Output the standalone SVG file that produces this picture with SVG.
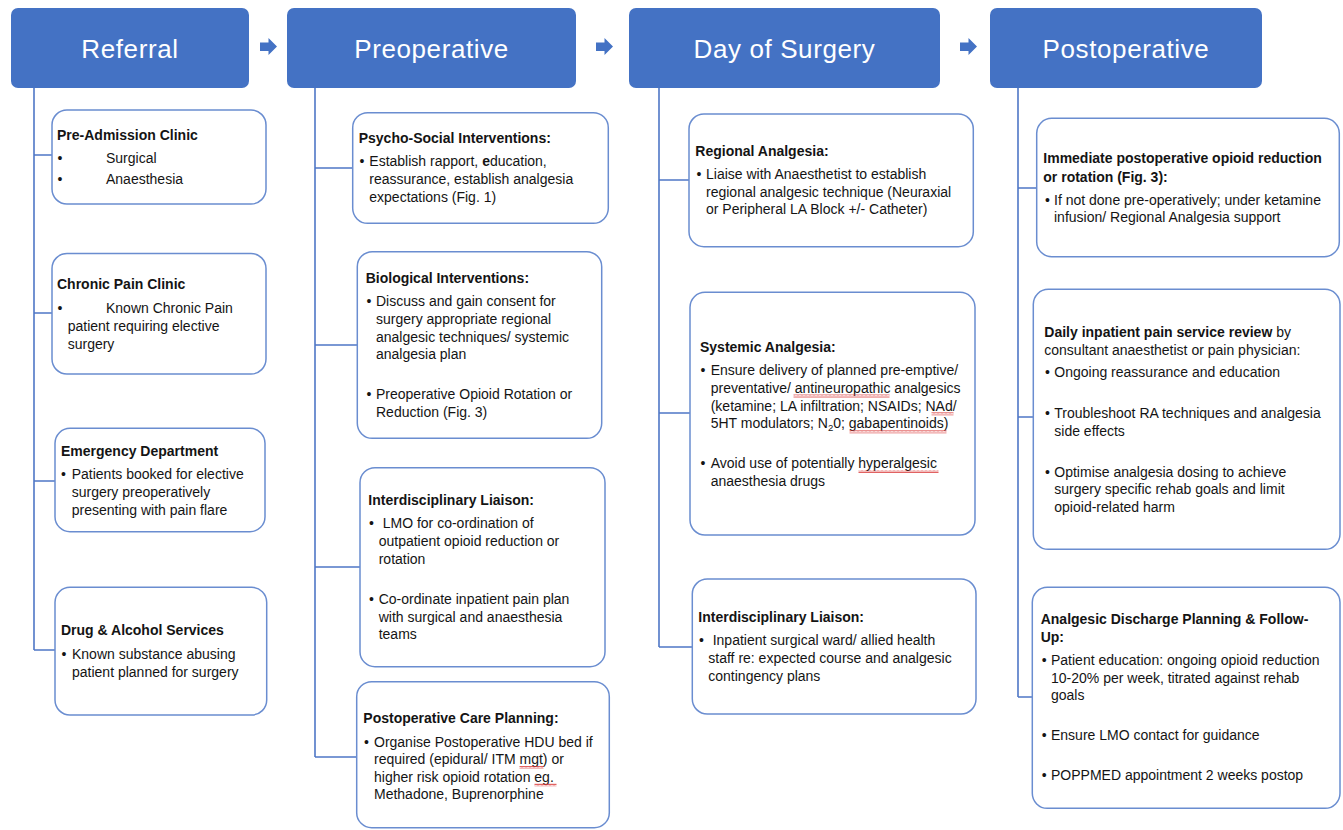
<svg xmlns="http://www.w3.org/2000/svg" width="1343" height="830" viewBox="0 0 1343 830">
<style>
.hdr{fill:#4472c4;}
.ht{font-family:"Liberation Sans",Arial,sans-serif;font-size:26px;fill:#ffffff;text-anchor:middle;letter-spacing:0.6px;}
.box{fill:#ffffff;stroke:#6a8dd0;stroke-width:1.5;}
.t{font-family:"Liberation Sans",Arial,sans-serif;font-size:14px;fill:#141414;}
.b{font-weight:bold;}
.conn{fill:none;stroke:#4f77c6;stroke-width:1.6;}
.arr{fill:#4472c4;}
.sq{fill:url(#squig);}
</style>
<defs>
<path id="barrow" d="M0 42.5 H8.5 V38 L17 46.5 L8.5 55 V51 H0 Z"/>
<pattern id="squig" x="0" y="0" width="4" height="3" patternUnits="userSpaceOnUse">
<path d="M0 2.5 L1 0.5 L2 2.5 L3 0.5 L4 2.5" fill="none" stroke="#d93a3a" stroke-width="0.8"/>
</pattern>
</defs>
<rect width="1343" height="830" fill="#ffffff"/>

<!-- connectors -->
<g id="connectors">
<path class="conn" d="M34 88 V650 M34 155 H52 M34 313 H52 M34 481 H55 M34 650 H55"/>
<path class="conn" d="M315 88 V757 M315 168 H353 M315 345 H357 M315 567 H360 M315 757 H357"/>
<path class="conn" d="M659 88 V647 M659 180 H689 M659 413 H690 M659 647 H692"/>
<path class="conn" d="M1018 88 V697 M1018 188 H1037 M1018 417 H1033 M1018 697 H1032"/>
<use href="#barrow" class="arr" x="260"/>
<use href="#barrow" class="arr" x="596"/>
<use href="#barrow" class="arr" x="960"/>
</g>

<!-- headers -->
<g id="h-referral"><rect class="hdr" x="11" y="8" width="238" height="80" rx="7"/><text class="ht" x="130" y="58">Referral</text></g>
<g id="h-preop"><rect class="hdr" x="287" y="8" width="289" height="80" rx="7"/><text class="ht" x="431.5" y="58">Preoperative</text></g>
<g id="h-day"><rect class="hdr" x="629" y="8" width="311" height="80" rx="7"/><text class="ht" x="784.5" y="58">Day of Surgery</text></g>
<g id="h-postop"><rect class="hdr" x="990" y="8" width="272" height="80" rx="7"/><text class="ht" x="1126" y="58">Postoperative</text></g>

<!-- Referral column -->
<g id="n-preadmission">
<rect class="box" x="52" y="110" width="214" height="94" rx="15"/>
<text class="t b" x="57" y="140">Pre-Admission Clinic</text>
<text class="t" x="57.5" y="163">•</text><text class="t" x="106" y="163">Surgical</text>
<text class="t" x="57.5" y="183.5">•</text><text class="t" x="106" y="183.5">Anaesthesia</text>
</g>
<g id="n-chronic">
<rect class="box" x="52" y="253.5" width="214" height="120.5" rx="15"/>
<text class="t b" x="57" y="289.3">Chronic Pain Clinic</text>
<text class="t" x="57.5" y="312.7">•</text><text class="t" x="106" y="312.7">Known Chronic Pain</text>
<text class="t" x="67.7" y="330.7">patient requiring elective</text>
<text class="t" x="67.7" y="348.5">surgery</text>
</g>
<g id="n-emergency">
<rect class="box" x="55" y="428.3" width="210" height="103.4" rx="15"/>
<text class="t b" x="61" y="456">Emergency Department</text>
<text class="t" x="61" y="479.3">•</text><text class="t" x="71.7" y="479.3">Patients booked for elective</text>
<text class="t" x="71.7" y="497.3">surgery preoperatively</text>
<text class="t" x="71.7" y="515.3">presenting with pain flare</text>
</g>
<g id="n-drug">
<rect class="box" x="55" y="587.3" width="211.7" height="127.7" rx="15"/>
<text class="t b" x="61" y="635">Drug &amp; Alcohol Services</text>
<text class="t" x="61.5" y="659.3">•</text><text class="t" x="72" y="659.3">Known substance abusing</text>
<text class="t" x="72" y="676.7">patient planned for surgery</text>
</g>

<!-- Preoperative column -->
<g id="n-psycho">
<rect class="box" x="352.7" y="112.7" width="255.6" height="110.6" rx="15"/>
<text class="t b" x="358.7" y="143.3">Psycho-Social Interventions:</text>
<text class="t" x="359.5" y="166">•</text><text class="t" x="369.3" y="166">Establish rapport, <tspan font-weight="bold">e</tspan>ducation,</text>
<text class="t" x="369.3" y="184">reassurance, establish analgesia</text>
<text class="t" x="369.3" y="202">expectations (Fig. 1)</text>
</g>
<g id="n-biological">
<rect class="box" x="357.3" y="251.7" width="244.4" height="186.6" rx="15"/>
<text class="t b" x="365.7" y="282.7">Biological Interventions:</text>
<text class="t" x="366.5" y="306">•</text><text class="t" x="376" y="306">Discuss and gain consent for</text>
<text class="t" x="376" y="324">surgery appropriate regional</text>
<text class="t" x="376" y="341.7">analgesic techniques/ systemic</text>
<text class="t" x="376" y="359.3">analgesia plan</text>
<text class="t" x="366.5" y="399.3">•</text><text class="t" x="376" y="399.3">Preoperative Opioid Rotation or</text>
<text class="t" x="376" y="417.3">Reduction (Fig. 3)</text>
</g>
<g id="n-interdisc-pre">
<rect class="box" x="360" y="467.7" width="245" height="199" rx="15"/>
<text class="t b" x="368.3" y="505">Interdisciplinary Liaison:</text>
<text class="t" x="369" y="528.3">•</text><text class="t" x="382.7" y="528.3">LMO for co-ordination of</text>
<text class="t" x="378.7" y="546">outpatient opioid reduction or</text>
<text class="t" x="378.7" y="564">rotation</text>
<text class="t" x="369" y="604">•</text><text class="t" x="378.7" y="604">Co-ordinate inpatient pain plan</text>
<text class="t" x="378.7" y="621.7">with surgical and anaesthesia</text>
<text class="t" x="378.7" y="639.3">teams</text>
</g>
<g id="n-postcare">
<rect class="box" x="356.7" y="681.7" width="252.6" height="146" rx="15"/>
<text class="t b" x="363.3" y="723.3">Postoperative Care Planning:</text>
<text class="t" x="364" y="746.7">•</text><text class="t" x="374" y="746.7">Organise Postoperative HDU bed if</text>
<text class="t" x="374" y="764">required (epidural/ ITM mgt) or</text>
<text class="t" x="374" y="781.7">higher risk opioid rotation eg.</text>
<text class="t" x="374" y="799.3">Methadone, Buprenorphine</text>
<rect class="sq" x="519.5" y="766" width="24" height="3"/>
<rect class="sq" x="534.5" y="783.5" width="22" height="3"/>
</g>

<!-- Day of Surgery column -->
<g id="n-regional">
<rect class="box" x="689" y="114" width="284.3" height="132.7" rx="15"/>
<text class="t b" x="695.3" y="155.7">Regional Analgesia:</text>
<text class="t" x="696.5" y="179.3">•</text><text class="t" x="706" y="179.3">Liaise with Anaesthetist to establish</text>
<text class="t" x="706" y="196.7">regional analgesic technique (Neuraxial</text>
<text class="t" x="706" y="214.3">or Peripheral LA Block +/- Catheter)</text>
</g>
<g id="n-systemic">
<rect class="box" x="690" y="292.3" width="285" height="242.7" rx="15"/>
<text class="t b" x="700" y="351.7">Systemic Analgesia:</text>
<text class="t" x="700.5" y="375">•</text><text class="t" x="710.7" y="375">Ensure delivery of planned pre-emptive/</text>
<text class="t" x="710.7" y="392.7">preventative/ antineuropathic analgesics</text>
<text class="t" x="710.7" y="410.7">(ketamine; LA infiltration; NSAIDs; NAd/</text>
<text class="t" x="710.7" y="428.3">5HT modulators; N<tspan font-size="9.5px" dy="3">2</tspan><tspan dy="-3">0; gabapentinoids)</tspan></text>
<text class="t" x="700.5" y="468.3">•</text><text class="t" x="710.7" y="468.3">Avoid use of potentially hyperalgesic</text>
<text class="t" x="710.7" y="485.7">anaesthesia drugs</text>
<rect class="sq" x="793.5" y="394.5" width="96" height="3"/>
<rect class="sq" x="931.5" y="412.3" width="22" height="3"/>
<rect class="sq" x="849.5" y="430.3" width="97" height="3"/>
<rect class="sq" x="858.5" y="470" width="80" height="3"/>
</g>
<g id="n-interdisc-day">
<rect class="box" x="692.3" y="579" width="283.7" height="135" rx="15"/>
<text class="t b" x="698.3" y="621.7">Interdisciplinary Liaison:</text>
<text class="t" x="699" y="645">•</text><text class="t" x="712.7" y="645">Inpatient surgical ward/ allied health</text>
<text class="t" x="708.3" y="662.7">staff re: expected course and analgesic</text>
<text class="t" x="708.3" y="680.7">contingency plans</text>
</g>

<!-- Postoperative column -->
<g id="n-immediate">
<rect class="box" x="1036.7" y="118.3" width="302.6" height="138.4" rx="15"/>
<text class="t b" x="1043.3" y="163.3">Immediate postoperative opioid reduction</text>
<text class="t b" x="1043.3" y="181.7">or rotation (Fig. 3):</text>
<text class="t" x="1045" y="205">•</text><text class="t" x="1054" y="205">If not done pre-operatively; under ketamine</text>
<text class="t" x="1054" y="222.3">infusion/ Regional Analgesia support</text>
</g>
<g id="n-daily">
<rect class="box" x="1033.3" y="289.3" width="306.7" height="260" rx="15"/>
<text class="t" x="1044.3" y="336.7"><tspan font-weight="bold">Daily inpatient pain service review</tspan> by</text>
<text class="t" x="1044.3" y="355">consultant anaesthetist or pain physician:</text>
<text class="t" x="1045" y="377.3">•</text><text class="t" x="1054.3" y="377.3">Ongoing reassurance and education</text>
<text class="t" x="1045" y="418.3">•</text><text class="t" x="1054.3" y="418.3">Troubleshoot RA techniques and analgesia</text>
<text class="t" x="1054.3" y="436">side effects</text>
<text class="t" x="1045" y="476.7">•</text><text class="t" x="1054.3" y="476.7">Optimise analgesia dosing to achieve</text>
<text class="t" x="1054.3" y="494">surgery specific rehab goals and limit</text>
<text class="t" x="1054.3" y="511.7">opioid-related harm</text>
</g>
<g id="n-discharge">
<rect class="box" x="1032.3" y="587.3" width="307.7" height="221" rx="15"/>
<text class="t b" x="1040.7" y="624">Analgesic Discharge Planning &amp; Follow-</text>
<text class="t b" x="1040.7" y="641.7">Up:</text>
<text class="t" x="1041.7" y="665">•</text><text class="t" x="1051" y="665">Patient education: ongoing opioid reduction</text>
<text class="t" x="1051" y="682.7">10-20% per week, titrated against rehab</text>
<text class="t" x="1051" y="700">goals</text>
<text class="t" x="1041.7" y="740">•</text><text class="t" x="1051" y="740">Ensure LMO contact for guidance</text>
<text class="t" x="1041.7" y="780">•</text><text class="t" x="1051" y="780">POPPMED appointment 2 weeks postop</text>
</g>
</svg>
